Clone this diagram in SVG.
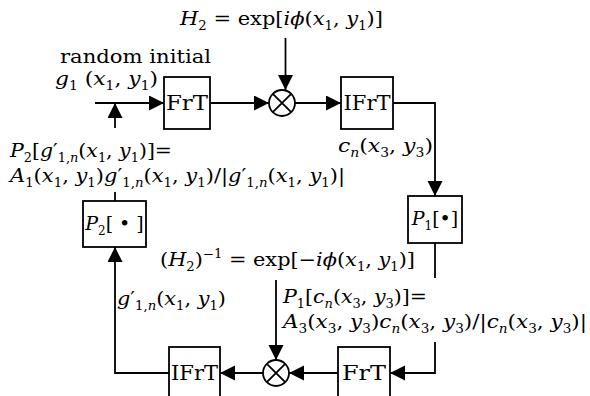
<svg xmlns="http://www.w3.org/2000/svg" width="590" height="396" viewBox="0 0 590 396">
<style>
text{font-family:"DejaVu Serif","Liberation Serif",serif;font-size:19px;fill:#000}
.i{font-style:italic}
.s{font-size:12px}
.pr{font-size:19px;font-style:normal}
.bl{font-size:20px}
.box{fill:#fff;stroke:#000;stroke-width:1.8}
.ln{fill:none;stroke:#000;stroke-width:1.8}
</style>
<defs>
<marker id="ah" markerUnits="userSpaceOnUse" markerWidth="16" markerHeight="16" refX="15" refY="7.5" orient="auto">
<path d="M0,0 L15,7.5 L0,15 z" fill="#000"/>
</marker>
</defs>
<rect width="590" height="396" fill="#fff"/>
<g id="connectors">
<line class="ln" x1="95" y1="103" x2="164" y2="103" marker-end="url(#ah)"/>
<line class="ln" x1="115" y1="128" x2="115" y2="103" marker-end="url(#ah)"/>
<line class="ln" x1="115" y1="192" x2="115" y2="201"/>
<line class="ln" x1="210" y1="103" x2="269" y2="103" marker-end="url(#ah)"/>
<line class="ln" x1="285.5" y1="38" x2="285.5" y2="90" marker-end="url(#ah)"/>
<line class="ln" x1="295" y1="103" x2="341" y2="103" marker-end="url(#ah)"/>
<path class="ln" d="M393,103 H435 V196" marker-end="url(#ah)"/>
<line class="ln" x1="435" y1="243" x2="435" y2="278"/>
<path class="ln" d="M435,342 V373 H390" marker-end="url(#ah)"/>
<line class="ln" x1="338" y1="373" x2="289" y2="373" marker-end="url(#ah)"/>
<line class="ln" x1="276" y1="280" x2="276" y2="360" marker-end="url(#ah)"/>
<line class="ln" x1="263" y1="373" x2="220" y2="373" marker-end="url(#ah)"/>
<path class="ln" d="M169,373 H115 V247" marker-end="url(#ah)"/>
</g>
<g id="frt1"><rect class="box" x="164" y="77" width="46" height="52"/><text class="bl" x="187" y="110" text-anchor="middle" textLength="42" lengthAdjust="spacingAndGlyphs">FrT</text></g>
<g id="mul1"><circle class="box" cx="282" cy="103" r="13"/><path class="ln" d="M272.8,93.8 L291.2,112.2 M291.2,93.8 L272.8,112.2"/></g>
<g id="ifrt1"><rect class="box" x="341" y="77" width="52" height="52"/><text class="bl" x="367" y="110" text-anchor="middle" textLength="47" lengthAdjust="spacingAndGlyphs">IFrT</text></g>
<g id="p1"><rect class="box" x="408" y="196" width="54" height="47"/><text x="435" y="225" text-anchor="middle"><tspan class="i">P</tspan><tspan class="s" dy="5">1</tspan><tspan dy="-5">[•]</tspan></text></g>
<g id="p2"><rect class="box" x="83" y="201" width="63" height="46"/><text x="114.5" y="230" text-anchor="middle"><tspan class="i">P</tspan><tspan class="s" dy="5">2</tspan><tspan dy="-5">[ • ]</tspan></text></g>
<g id="frt2"><rect class="box" x="338" y="347" width="52" height="52"/><text class="bl" x="364" y="380" text-anchor="middle" textLength="44" lengthAdjust="spacingAndGlyphs">FrT</text></g>
<g id="mul2"><circle class="box" cx="276" cy="373" r="13"/><path class="ln" d="M266.8,363.8 L285.2,382.2 M285.2,363.8 L266.8,382.2"/></g>
<g id="ifrt2"><rect class="box" x="169" y="347" width="51" height="52"/><text class="bl" x="194.5" y="380" text-anchor="middle" textLength="47" lengthAdjust="spacingAndGlyphs">IFrT</text></g>
<g id="labels">
<text x="180" y="25" textLength="203" lengthAdjust="spacingAndGlyphs"><tspan class="i">H</tspan><tspan class="s" dy="5">2</tspan><tspan dy="-5"> = exp[</tspan><tspan class="i">iϕ</tspan>(<tspan class="i">x</tspan><tspan class="s" dy="5">1</tspan><tspan dy="-5">, </tspan><tspan class="i">y</tspan><tspan class="s" dy="5">1</tspan><tspan dy="-5">)]</tspan></text>
<text x="60" y="63" textLength="151" lengthAdjust="spacingAndGlyphs">random initial</text>
<text x="55" y="85" textLength="103" lengthAdjust="spacingAndGlyphs"><tspan class="i">g</tspan><tspan class="s" dy="5">1</tspan><tspan dy="-5"> (</tspan><tspan class="i">x</tspan><tspan class="s" dy="5">1</tspan><tspan dy="-5">, </tspan><tspan class="i">y</tspan><tspan class="s" dy="5">1</tspan><tspan dy="-5">)</tspan></text>
<text x="338" y="152" textLength="95" lengthAdjust="spacingAndGlyphs"><tspan class="i">c</tspan><tspan class="s i" dy="5">n</tspan><tspan dy="-5">(</tspan><tspan class="i">x</tspan><tspan class="s" dy="5">3</tspan><tspan dy="-5">, </tspan><tspan class="i">y</tspan><tspan class="s" dy="5">3</tspan><tspan dy="-5">)</tspan></text>
<text x="10" y="157" textLength="162" lengthAdjust="spacingAndGlyphs"><tspan class="i">P</tspan><tspan class="s" dy="5">2</tspan><tspan dy="-5">[</tspan><tspan class="i">g</tspan><tspan class="pr">′</tspan><tspan class="s" dy="5">1,</tspan><tspan class="s i">n</tspan><tspan dy="-5">(</tspan><tspan class="i">x</tspan><tspan class="s" dy="5">1</tspan><tspan dy="-5">, </tspan><tspan class="i">y</tspan><tspan class="s" dy="5">1</tspan><tspan dy="-5">)]=</tspan></text>
<text x="10" y="182" textLength="335" lengthAdjust="spacingAndGlyphs"><tspan class="i">A</tspan><tspan class="s" dy="5">1</tspan><tspan dy="-5">(</tspan><tspan class="i">x</tspan><tspan class="s" dy="5">1</tspan><tspan dy="-5">, </tspan><tspan class="i">y</tspan><tspan class="s" dy="5">1</tspan><tspan dy="-5">)</tspan><tspan class="i">g</tspan><tspan class="pr">′</tspan><tspan class="s" dy="5">1,</tspan><tspan class="s i">n</tspan><tspan dy="-5">(</tspan><tspan class="i">x</tspan><tspan class="s" dy="5">1</tspan><tspan dy="-5">, </tspan><tspan class="i">y</tspan><tspan class="s" dy="5">1</tspan><tspan dy="-5">)/|</tspan><tspan class="i">g</tspan><tspan class="pr">′</tspan><tspan class="s" dy="5">1,</tspan><tspan class="s i">n</tspan><tspan dy="-5">(</tspan><tspan class="i">x</tspan><tspan class="s" dy="5">1</tspan><tspan dy="-5">, </tspan><tspan class="i">y</tspan><tspan class="s" dy="5">1</tspan><tspan dy="-5">)|</tspan></text>
<text x="160" y="266" textLength="255" lengthAdjust="spacingAndGlyphs">(<tspan class="i">H</tspan><tspan class="s" dy="5">2</tspan><tspan dy="-5">)</tspan><tspan class="s" dy="-8">−1</tspan><tspan dy="8"> = exp[−</tspan><tspan class="i">iϕ</tspan>(<tspan class="i">x</tspan><tspan class="s" dy="5">1</tspan><tspan dy="-5">, </tspan><tspan class="i">y</tspan><tspan class="s" dy="5">1</tspan><tspan dy="-5">)]</tspan></text>
<text x="117" y="305" textLength="109" lengthAdjust="spacingAndGlyphs"><tspan class="i">g</tspan><tspan class="pr">′</tspan><tspan class="s" dy="5">1,</tspan><tspan class="s i">n</tspan><tspan dy="-5">(</tspan><tspan class="i">x</tspan><tspan class="s" dy="5">1</tspan><tspan dy="-5">, </tspan><tspan class="i">y</tspan><tspan class="s" dy="5">1</tspan><tspan dy="-5">)</tspan></text>
<text x="283" y="303" textLength="144" lengthAdjust="spacingAndGlyphs"><tspan class="i">P</tspan><tspan class="s" dy="5">1</tspan><tspan dy="-5">[</tspan><tspan class="i">c</tspan><tspan class="s i" dy="5">n</tspan><tspan dy="-5">(</tspan><tspan class="i">x</tspan><tspan class="s" dy="5">3</tspan><tspan dy="-5">, </tspan><tspan class="i">y</tspan><tspan class="s" dy="5">3</tspan><tspan dy="-5">)]=</tspan></text>
<text x="283" y="328" textLength="304" lengthAdjust="spacingAndGlyphs"><tspan class="i">A</tspan><tspan class="s" dy="5">3</tspan><tspan dy="-5">(</tspan><tspan class="i">x</tspan><tspan class="s" dy="5">3</tspan><tspan dy="-5">, </tspan><tspan class="i">y</tspan><tspan class="s" dy="5">3</tspan><tspan dy="-5">)</tspan><tspan class="i">c</tspan><tspan class="s i" dy="5">n</tspan><tspan dy="-5">(</tspan><tspan class="i">x</tspan><tspan class="s" dy="5">3</tspan><tspan dy="-5">, </tspan><tspan class="i">y</tspan><tspan class="s" dy="5">3</tspan><tspan dy="-5">)/|</tspan><tspan class="i">c</tspan><tspan class="s i" dy="5">n</tspan><tspan dy="-5">(</tspan><tspan class="i">x</tspan><tspan class="s" dy="5">3</tspan><tspan dy="-5">, </tspan><tspan class="i">y</tspan><tspan class="s" dy="5">3</tspan><tspan dy="-5">)|</tspan></text>
</g>
</svg>
